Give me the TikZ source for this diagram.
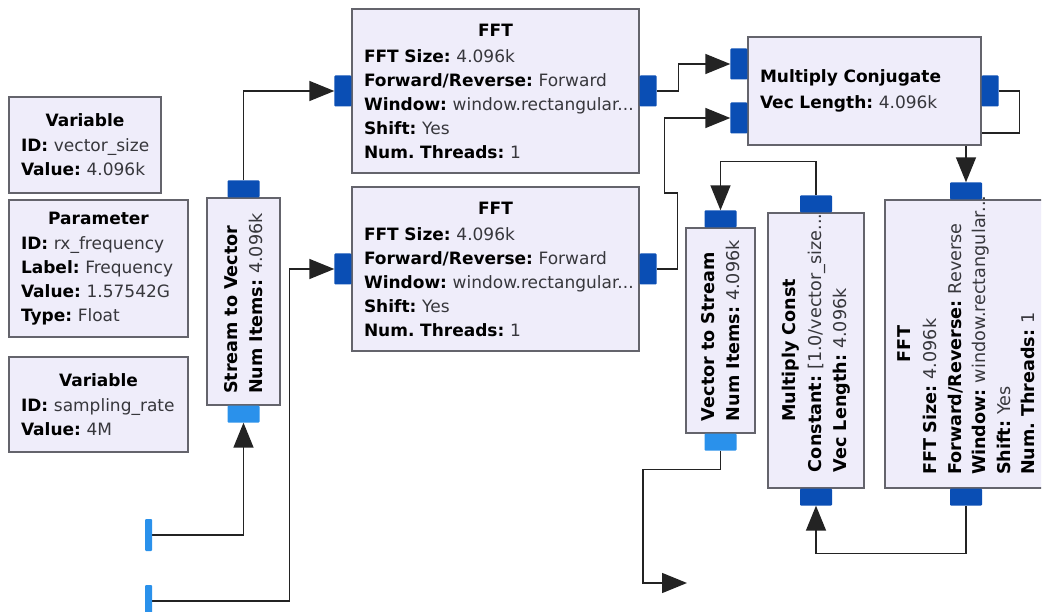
\documentclass[tikz,border=0pt]{standalone}
\usepackage{fontspec}
\setmainfont{DejaVu Sans}
\usetikzlibrary{positioning,arrows.meta,backgrounds}

\definecolor{boxfill}{RGB}{239,237,250}
\definecolor{boxline}{RGB}{100,100,108}
\definecolor{portdark}{RGB}{10,78,180}
\definecolor{portlight}{RGB}{42,145,235}
\definecolor{wirecol}{RGB}{35,35,35}
\definecolor{valtext}{RGB}{55,55,60}

\newcommand\hfnt{\fontsize{17}{24}\selectfont\frenchspacing}
\newcommand\vfnt{\fontsize{17.6}{24.5}\selectfont\frenchspacing}
\newcommand\prm[2]{\mbox{\textbf{#1:} \textcolor{valtext}{#2}}}
\newcommand\ttl[1]{\hfill\textbf{#1}\hfill\mbox{}}

\tikzset{
  blk/.style={draw=boxline, fill=boxfill, line width=1.4pt, align=left, inner xsep=12pt, inner ysep=0pt, font=\hfnt, text=black},
  vblk/.style={blk, rotate=90, font=\vfnt},
  hport/.style={fill=portdark, rounded corners=1pt, minimum width=17pt, minimum height=31pt, inner sep=0pt, outer sep=0pt},
  vport/.style={hport, minimum width=32pt, minimum height=17pt},
  lport/.style={vport, fill=portlight},
  src/.style={hport, fill=portlight, minimum width=7pt, minimum height=32pt},
  link/.style={draw=wirecol, line width=1.5pt, -{Triangle[length=25pt,width=20pt]}},
}

\begin{document}
\begin{tikzpicture}[x=1pt, y=-1pt]
  \path[use as bounding box] (0,0) rectangle (1045,612);
  \begin{pgfonlayer}{background}
    \fill[white] (0,0) rectangle (1045,612);
  \end{pgfonlayer}
  \clip (0,0) rectangle (1041,612);

  % variables
  \node[blk, minimum width=152pt, minimum height=96pt, text width=128pt] (var1) at (85,145)
    {\ttl{Variable}\\[1pt] \prm{ID}{vector\_size}\\ \prm{Value}{4.096k}};
  \node[blk, minimum width=179pt, minimum height=137pt, text width=155pt] (param) at (98.5,268.5)
    {\ttl{Parameter}\\[1pt] \prm{ID}{rx\_frequency}\\ \prm{Label}{Frequency}\\ \prm{Value}{1.57542G}\\ \prm{Type}{Float}};
  \node[blk, minimum width=179pt, minimum height=95pt, text width=155pt] (var2) at (98.5,404.5)
    {\ttl{Variable}\\[1pt] \prm{ID}{sampling\_rate}\\ \prm{Value}{4M}};

  % sources
  \node[src] (src1) at (148.5,535) {};
  \node[src] (src2) at (148.5,601) {};

  % stream to vector
  \node[vblk, minimum width=207pt, minimum height=73pt, text width=185pt, inner xsep=11pt] (s2v) at (243.5,301.5)
    {\textbf{Stream to Vector}\\ \prm{Num Items}{4.096k}};
  \node[vport, anchor=south] (s2vout) at (s2v.east) {};
  \node[lport, anchor=north] (s2vin) at (s2v.west) {};

  % forward ffts
  \node[blk, minimum width=287pt, minimum height=164pt, text width=263pt] (fft1) at (495.5,91)
    {\ttl{FFT}\\[2pt] \prm{FFT Size}{4.096k}\\ \prm{Forward/Reverse}{Forward}\\ \prm{Window}{window.rectangular...}\\ \prm{Shift}{Yes}\\ \prm{Num. Threads}{1}};
  \node[hport, left=0pt of fft1] (fft1in) {};
  \node[hport, right=0pt of fft1] (fft1out) {};
  \node[blk, minimum width=287pt, minimum height=164pt, text width=263pt] (fft2) at (495.5,269)
    {\ttl{FFT}\\[2pt] \prm{FFT Size}{4.096k}\\ \prm{Forward/Reverse}{Forward}\\ \prm{Window}{window.rectangular...}\\ \prm{Shift}{Yes}\\ \prm{Num. Threads}{1}};
  \node[hport, left=0pt of fft2] (fft2in) {};
  \node[hport, right=0pt of fft2] (fft2out) {};

  % multiply conjugate
  \node[blk, minimum width=233pt, minimum height=108pt, text width=209pt] (mconj) at (864.5,91)
    {\textbf{Multiply Conjugate}\\[2pt] \prm{Vec Length}{4.096k}};
  \node[hport, anchor=east] (mconjin1) at ([yshift=27pt]mconj.west) {};
  \node[hport, anchor=east] (mconjin2) at ([yshift=-27pt]mconj.west) {};
  \node[hport, right=0pt of mconj] (mconjout) {};

  % vector to stream
  \node[vblk, minimum width=205pt, minimum height=69pt, text width=181pt] (v2s) at (720.5,330.5)
    {\textbf{Vector to Stream}\\ \prm{Num Items}{4.096k}};
  \node[vport, anchor=south] (v2sin) at (v2s.east) {};
  \node[lport, anchor=north] (v2sout) at (v2s.west) {};
  \coordinate (sink) at (687,583);

  % multiply const
  \node[vblk, minimum width=275pt, minimum height=96pt, text width=243pt, inner xsep=16pt] (mconst) at (816,350.5)
    {\ttl{Multiply Const}\\[2pt] \prm{Constant}{[1.0/vector\_size...}\\ \prm{Vec Length}{4.096k}};
  \node[vport, anchor=south] (mctop) at (mconst.east) {};
  \node[vport, anchor=north] (mcbot) at (mconst.west) {};

  % reverse fft
  \node[vblk, minimum width=288pt, minimum height=162pt, text width=262pt, inner xsep=13pt] (rfft) at (966,344)
    {\ttl{FFT}\\[2pt] \prm{FFT Size}{4.096k}\\ \prm{Forward/Reverse}{Reverse}\\ \prm{Window}{window.rectangular...}\\ \prm{Shift}{Yes}\\ \prm{Num. Threads}{1}};
  \node[vport, anchor=south] (rfftin) at (rfft.east) {};
  \node[vport, anchor=north] (rfftout) at (rfft.west) {};

  \begin{pgfonlayer}{background}
    \draw[link] (s2vout.north) |- (fft1in.west);
    \draw[link] (src1.east) -| (s2vin.south);
    \draw[link] (src2.east) -| ([xshift=-45pt]fft2in.west) -- (fft2in.west);
    \draw[link] (fft1out.east) -- ++(22,0) |- (mconjin1.west);
    \draw[link] (fft2out.east) -- ++(21,0) -- ++(0,-76) -- ++(-13,0) |- (mconjin2.west);
    \draw[link] (mconjout.east) -- ++(21,0) -- ++(0,42) -| (rfftin.north);
    \draw[link] (mctop.north) -- ++(0,-34) -| (v2sin.north);
    \draw[link] (rfftout.south) -- ++(0,48) -| (mcbot.south);
    \draw[link] (v2sout.south) -- ++(0,19) -| ([xshift=-44pt]sink) -- (sink);
  \end{pgfonlayer}
\end{tikzpicture}
\end{document}
